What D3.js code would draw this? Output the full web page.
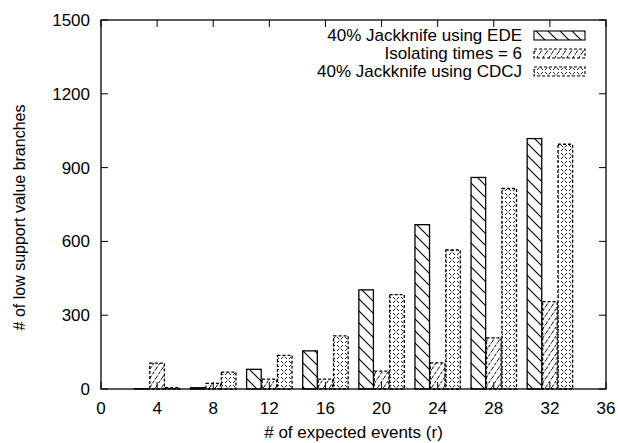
<!DOCTYPE html>
<html>
<head>
<meta charset="utf-8">
<script src="https://cdn.jsdelivr.net/npm/d3@7"></script>
<style>
  body { margin: 0; background: #fff; }
  text { font-family: "Liberation Sans", Arial, sans-serif; fill: #000; }
</style>
</head>
<body>
<div id="chart"></div>
<script>
// Data
const xValues = [4, 8, 12, 16, 20, 24, 28, 32];
const edeValues = [1, 5, 80, 155, 403, 668, 860, 1018];
const isolatingValues = [105, 23, 40, 40, 73, 106, 208, 355];
const cdcjValues = [5, 69, 137, 216, 384, 565, 815, 995];
const seriesNames = ["40% Jackknife using EDE", "Isolating times = 6", "40% Jackknife using CDCJ"];
const xTicks = [0, 4, 8, 12, 16, 20, 24, 28, 32, 36];
const yTicks = [0, 300, 600, 900, 1200, 1500];

const width = 618, height = 443;
const margin = {left: 101, right: 12, top: 20, bottom: 54};

const x = d3.scaleLinear().domain([0, 36]).range([margin.left, width - margin.right]);
const y = d3.scaleLinear().domain([0, 1500]).range([height - margin.bottom, margin.top]);

const svg = d3.select("#chart").append("svg")
    .attr("width", width)
    .attr("height", height);

// Patterns
const defs = svg.append("defs");

const p1 = defs.append("pattern").attr("id", "pat-ede")
    .attr("patternUnits", "userSpaceOnUse").attr("width", 12).attr("height", 12);
p1.append("path").attr("d", "M-3,-3 L15,15 M-3,9 L3,15 M9,-3 L15,3")
    .attr("stroke", "#000").attr("stroke-width", 1.1);

const p2 = defs.append("pattern").attr("id", "pat-iso")
    .attr("patternUnits", "userSpaceOnUse").attr("width", 6).attr("height", 9);
p2.append("path").attr("d", "M0,9 L6,0")
    .attr("stroke", "#000").attr("stroke-width", 1).attr("stroke-dasharray", "3,1.5");

const p3 = defs.append("pattern").attr("id", "pat-cdcj")
    .attr("patternUnits", "userSpaceOnUse").attr("width", 8).attr("height", 8);
p3.append("path").attr("d", "M1,1 L3,3 M7,1 L5,3 M1,7 L3,5 M7,7 L5,5")
    .attr("stroke", "#000").attr("stroke-width", 0.9);
p3.append("rect").attr("x", 3.5).attr("y", 3.5).attr("width", 1).attr("height", 1).attr("fill", "#000");

const series = [
    {name: seriesNames[0], values: edeValues, fill: "url(#pat-ede)", dash: null, offset: -1.1},
    {name: seriesNames[1], values: isolatingValues, fill: "url(#pat-iso)", dash: "3,2", offset: 0},
    {name: seriesNames[2], values: cdcjValues, fill: "url(#pat-cdcj)", dash: "3,2", offset: 1.1}
];
const barW = 1.04;

// Bars
series.forEach(s => {
    svg.append("g").selectAll("rect")
        .data(xValues.map((v, i) => ({x: v, y: s.values[i]})))
        .enter().append("rect")
        .attr("x", d => x(d.x + s.offset - barW / 2))
        .attr("width", x(barW) - x(0))
        .attr("y", d => y(d.y))
        .attr("height", d => y(0) - y(d.y))
        .attr("fill", s.fill)
        .attr("stroke", "#000")
        .attr("stroke-width", 1.3)
        .attr("stroke-dasharray", s.dash);
});

// Frame
svg.append("rect")
    .attr("x", x(0)).attr("y", y(1500))
    .attr("width", x(36) - x(0)).attr("height", y(0) - y(1500))
    .attr("fill", "none").attr("stroke", "#000").attr("stroke-width", 1.3);

// Axes with mirrored inner ticks
const tickLen = 7;
const xAxis = svg.append("g");
xTicks.forEach(t => {
    xAxis.append("line").attr("x1", x(t)).attr("x2", x(t))
        .attr("y1", y(0)).attr("y2", y(0) - tickLen).attr("stroke", "#000");
    xAxis.append("line").attr("x1", x(t)).attr("x2", x(t))
        .attr("y1", y(1500)).attr("y2", y(1500) + tickLen).attr("stroke", "#000");
    xAxis.append("text").attr("x", x(t)).attr("y", y(0) + 25)
        .attr("text-anchor", "middle").attr("font-size", 17).text(t);
});
const yAxis = svg.append("g");
yTicks.forEach(t => {
    yAxis.append("line").attr("x1", x(0)).attr("x2", x(0) + tickLen)
        .attr("y1", y(t)).attr("y2", y(t)).attr("stroke", "#000");
    yAxis.append("line").attr("x1", x(36)).attr("x2", x(36) - tickLen)
        .attr("y1", y(t)).attr("y2", y(t)).attr("stroke", "#000");
    yAxis.append("text").attr("x", x(0) - 11).attr("y", y(t) + 6)
        .attr("text-anchor", "end").attr("font-size", 17).text(t);
});

// Axis titles
svg.append("text")
    .attr("x", (x(0) + x(36)) / 2).attr("y", 438)
    .attr("text-anchor", "middle").attr("font-size", 17)
    .text("# of expected events (r)");
svg.append("text")
    .attr("transform", `translate(25,${(y(0) + y(1500)) / 2 + 13}) rotate(-90)`)
    .attr("text-anchor", "middle").attr("font-size", 16)
    .text("# of low support value branches");

// Legend
const legend = svg.selectAll(".legend")
    .data(series)
    .enter().append("g")
    .attr("class", "legend")
    .attr("transform", (d, i) => `translate(0,${35 + i * 18})`);

legend.append("text")
    .attr("x", 522).attr("y", 6)
    .attr("text-anchor", "end").attr("font-size", 17)
    .text(d => d.name);

legend.append("rect")
    .attr("x", 534).attr("y", -4)
    .attr("width", 51).attr("height", 9)
    .attr("fill", d => d.fill)
    .attr("stroke", "#000").attr("stroke-width", 1.1)
    .attr("stroke-dasharray", d => d.dash);
</script>
</body>
</html>
